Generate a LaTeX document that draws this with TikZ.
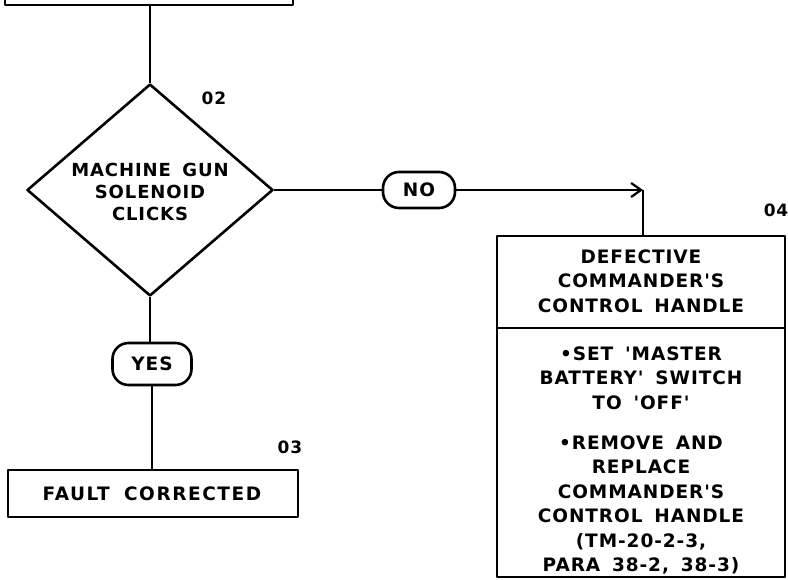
\documentclass[tikz,border=0pt]{standalone}
\usepackage{fontspec}
\newfontfamily\lett[LetterSpace=5,WordSpace=1.6]{DejaVu Sans}
\newfontfamily\lettw[LetterSpace=8.5,WordSpace=1.8]{DejaVu Sans}
\usetikzlibrary{shapes.geometric,arrows.meta}
\tikzset{
  ln/.style={line width=2.6pt, line join=round},
  boxst/.style={ln, draw, rectangle, inner sep=0pt},
  pill/.style={ln, draw, rectangle, rounded corners=16pt, inner sep=0pt, font=\lett\bfseries\fontsize{18.5}{20}\selectfont},
  txt/.style={font=\lett\bfseries\fontsize{18.5}{24.5}\selectfont, align=center, inner sep=0pt},
  num/.style={font=\lett\bfseries\fontsize{17}{18}\selectfont, inner sep=0pt},
}
\begin{document}
\begin{tikzpicture}[x=1pt,y=-1pt]
\useasboundingbox (0,0) rectangle (788,580);
% partial top box
\node[boxst, minimum width=288pt, minimum height=40pt] (top) at (149,-15) {};
% decision 02
\node[ln, draw, diamond, minimum width=246pt, minimum height=212pt, inner sep=0pt] (d2) at (150,190) {};
\node[txt, font=\lett\bfseries\fontsize{18}{22}\selectfont] (d2t) at (150,192) {MACHINE GUN\\SOLENOID\\CLICKS};
\node[num] (n2) at (214,98) {02};
% NO pill
\node[pill, minimum width=72pt, minimum height=36pt] (no) at (419,190) {NO};
\coordinate (corner) at (643,190);
% box 04
\node[boxst, minimum width=288pt, minimum height=92pt] (b4a) at (641,282) {};
\node[boxst, minimum width=288pt, minimum height=249pt] (b4b) at (641,452.5) {};
\node[txt] (b4at) at (641,281) {DEFECTIVE\\COMMANDER'S\\CONTROL HANDLE};
\node[txt] (b4bt) at (641,460.5) {•SET 'MASTER\\BATTERY' SWITCH\\TO 'OFF'\\[15.5pt]•REMOVE AND\\REPLACE\\COMMANDER'S\\CONTROL HANDLE\\(TM-20-2-3,\\PARA 38-2, 38-3)};
\node[num] (n4) at (776,210) {04};
% YES pill
\node[pill, minimum width=79pt, minimum height=42pt] (yes) at (152,364) {YES};
% box 03
\node[boxst, minimum width=290pt, minimum height=47pt] (b3) at (153,493.5) {};
\node[txt, font=\lettw\bfseries\fontsize{18.5}{24.5}\selectfont] (b3t) at (152,493.5) {FAULT CORRECTED};
\node[num] (n3) at (290,447) {03};
% connectors
\draw[ln] (top.south -| d2.north) -- (d2.north);
\draw[ln] (d2.east) -- (no.west);
\draw[ln, -{Straight Barb[length=10pt,width=14pt,line width=2.2pt]}] (no.east) -- (corner);
\draw[ln] (corner) -- (corner |- b4a.north);
\draw[ln] (d2.south) -- (d2.south |- yes.north);
\draw[ln] (yes.south) -- (yes.south |- b3.north);
\end{tikzpicture}
\end{document}
